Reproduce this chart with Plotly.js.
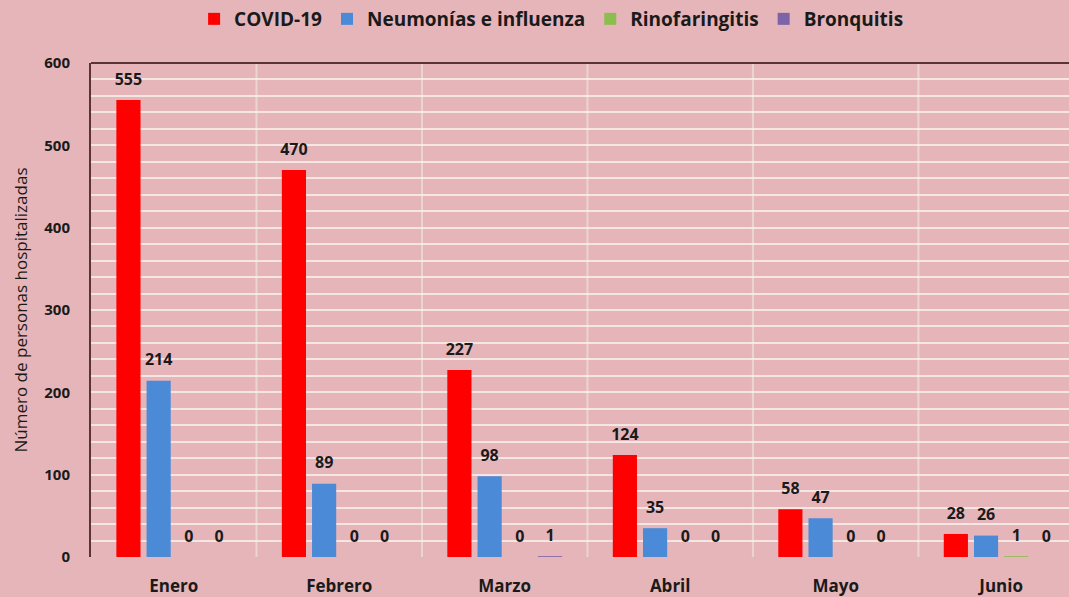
<!DOCTYPE html>
<html><head><meta charset="utf-8">
<script src="https://cdn.plot.ly/plotly-3.0.1.min.js"></script>
<style>html,body{margin:0;padding:0;background:#e6b5b9;}</style>
</head><body>
<div id="chart" style="width:1069px;height:597px;"></div>
<script>
const months = ["Enero","Febrero","Marzo","Abril","Mayo","Junio"];
const covid = [555,470,227,124,58,28];
const neumonias = [214,89,98,35,47,26];
const rinofaringitis = [0,0,0,0,0,1];
const bronquitis = [0,0,1,0,0,0];
const seriesNames = ["COVID-19","Neumonías e influenza","Rinofaringitis","Bronquitis"];
const yTicks = [0,100,200,300,400,500,600];

const colors = ["#ff0000","#4a8ad6","#8cbd4f","#7d63a8"];
const dataSets = [covid, neumonias, rinofaringitis, bronquitis];
const font = "'Open Sans', sans-serif";
const traces = dataSets.map((d,i)=>({
  type:"bar", x:months, y:d, name:seriesNames[i],
  marker:{color:colors[i]},
  text:d.map(v=>"<span style='font-size:16px'>"+v+"</span><br>\u00a0"),
  textposition:"outside", cliponaxis:false, constraintext:"none",
  textfont:{family:font,size:8,color:"#1a1a1a",weight:"bold"},
  hoverinfo:"none"
}));

const shapes = [];
for(let i=0;i<months.length-1;i++){
  shapes.push({type:"line",xref:"x",yref:"paper",x0:i+0.5,x1:i+0.5,y0:0,y1:1,
    line:{color:"rgba(240,235,225,0.6)",width:2},layer:"below"});
}
shapes.push({type:"line",xref:"paper",yref:"paper",x0:0,x1:1,y0:1,y1:1,line:{color:"#5a3434",width:2}});

const layout = {
  width:1069,height:597,
  paper_bgcolor:"#e6b5b9",plot_bgcolor:"#e6b5b9",
  margin:{l:91,r:0,t:63,b:40},
  barmode:"group",bargap:0.27,bargroupgap:0.2,
  font:{family:font,color:"#1a1a1a"},
  showlegend:true,
  legend:{orientation:"h",xref:"container",yref:"container",x:0.516,xanchor:"center",y:1.0,yanchor:"top",
    font:{family:font,size:19,weight:"bold",color:"#1a1a1a"},bgcolor:"rgba(0,0,0,0)",itemwidth:30,tracegroupgap:0},
  xaxis:{range:[-0.5,5.41],showgrid:false,zeroline:false,ticks:"",ticklabelstandoff:17,
    tickfont:{family:font,size:17,weight:"bold",color:"#1a1a1a"},showline:false,fixedrange:true},
  yaxis:{range:[0,600],tickvals:yTicks,ticktext:yTicks.map(String),showgrid:false,zeroline:false,
    minor:{dtick:20,showgrid:true,gridcolor:"rgba(250,242,238,0.8)",gridwidth:2},
    showline:true,linecolor:"#5a3434",linewidth:2,ticks:"",ticklabelstandoff:16,
    tickfont:{family:font,size:15,weight:"bold",color:"#1a1a1a"},
    title:{text:"Número de personas hospitalizadas",font:{family:font,size:17,color:"#1a1a1a"},standoff:12}},
  shapes:shapes
};
Plotly.newPlot("chart",traces,layout,{displayModeBar:false,staticPlot:true});
</script>
</body></html>
